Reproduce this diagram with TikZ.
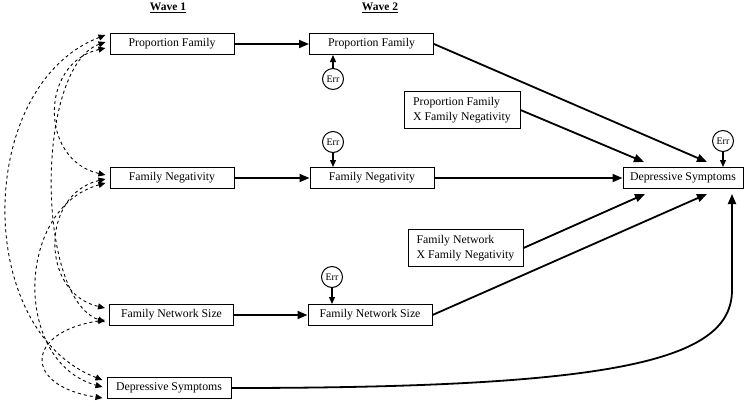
\documentclass[tikz,border=0pt]{standalone}
\usepackage{fontspec}
\setmainfont{Liberation Serif}
\usetikzlibrary{arrows.meta}

\begin{document}
\begin{tikzpicture}[x=1pt,y=-1pt,
  var/.style={draw, line width=1pt, minimum width=124pt, minimum height=21pt, inner sep=2pt, font=\fontsize{11.8}{14}\selectfont},
  inter/.style={draw, line width=1pt, align=left, minimum height=37pt, inner xsep=8pt, font=\fontsize{11.8}{15}\selectfont},
  err/.style={draw, circle, line width=1pt, minimum size=21pt, inner sep=0pt, font=\fontsize{10}{10}\selectfont},
  wave/.style={font=\fontsize{11.5}{13}\selectfont},
  effect/.style={-{Triangle[length=10pt,width=8pt]}, line width=1.8pt},
  errarrow/.style={-{Triangle[length=7pt,width=6pt]}, line width=1.2pt},
  cov/.style={{Triangle[length=7pt,width=6pt]}-{Triangle[length=7pt,width=6pt]}, dashed, line width=0.9pt}]

\useasboundingbox (0,0) rectangle (750,405);

\node[wave] (w1) at (168,8) {\underline{\textbf{Wave 1}}};
\node[wave] (w2) at (380,8) {\underline{\textbf{Wave 2}}};

\node[var] (pf1) at (172,44) {Proportion Family};
\node[var] (fn1) at (172,178) {Family Negativity};
\node[var] (ns1) at (171.5,315) {Family Network Size};
\node[var] (ds1) at (169,388) {Depressive Symptoms};

\node[var] (pf2) at (371.5,44) {Proportion Family};
\node[var] (fn2) at (372,178) {Family Negativity};
\node[var] (ns2) at (370,315) {Family Network Size};
\node[var, minimum width=120pt] (ds2) at (683,178) {Depressive Symptoms};

\node[inter, minimum width=116pt] (pfxfn) at (462,110) {Proportion Family\\X Family Negativity};
\node[inter, minimum width=115pt] (nsxfn) at (465.5,248) {Family Network\\X Family Negativity};

\node[err] (e1) at (333,79) {Err};
\node[err] (e2) at (333,142) {Err};
\node[err] (e3) at (332,277) {Err};
\node[err] (e4) at (723,141) {Err};

\coordinate (in1) at (644,162);
\coordinate (in2) at (707,162);
\coordinate (in3) at (645,194);
\coordinate (in4) at (707,194);
\coordinate (in5) at (732,194);

\draw[effect] (pf1) -- (pf2);
\draw[effect] (fn1) -- (fn2);
\draw[effect] (ns1) -- (ns2);

\draw[errarrow] (e1) -- (pf2.south -| e1);
\draw[errarrow] (e2) -- (fn2.north -| e2);
\draw[errarrow] (e3) -- (ns2.north -| e3);
\draw[errarrow] (e4) -- (ds2.north -| e4);

\draw[effect] (pf2.east) -- (in2);
\draw[effect] (pfxfn.east) -- (in1);
\draw[effect] (fn2.east) -- (ds2.west);
\draw[effect] (nsxfn.east) -- (in3);
\draw[effect] (ns2.east) -- (in4);
\draw[effect] (ds1.east) .. controls (620,388) and (732,360) .. (732,290) -- (in5);

\draw[cov] ([xshift=-4pt,yshift=9pt]pf1.west) .. controls +(-130,50) and +(-130,-50) .. ([xshift=-4pt,yshift=8pt]ds1.west);
\draw[cov] ([xshift=-4pt,yshift=2pt]pf1.west) .. controls +(-70,25) and +(-70,-25) .. ([xshift=-4pt,yshift=-7pt]ns1.west);
\draw[cov] ([xshift=-4pt,yshift=-4pt]pf1.west) .. controls +(-66,15) and +(-66,-15) .. ([xshift=-4pt,yshift=3pt]fn1.west);
\draw[cov] ([xshift=-4pt,yshift=-1pt]fn1.west) .. controls +(-65,15) and +(-65,-15) .. ([xshift=-4pt,yshift=7pt]ns1.west);
\draw[cov] ([xshift=-4pt,yshift=-5pt]fn1.west) .. controls +(-90,25) and +(-90,-25) .. ([xshift=-4pt,yshift=1pt]ds1.west);
\draw[cov] ([xshift=-4pt,yshift=-5pt]ns1.west) .. controls +(-80,12) and +(-80,-12) .. ([xshift=-4pt,yshift=-10pt]ds1.west);

\end{tikzpicture}
\end{document}
